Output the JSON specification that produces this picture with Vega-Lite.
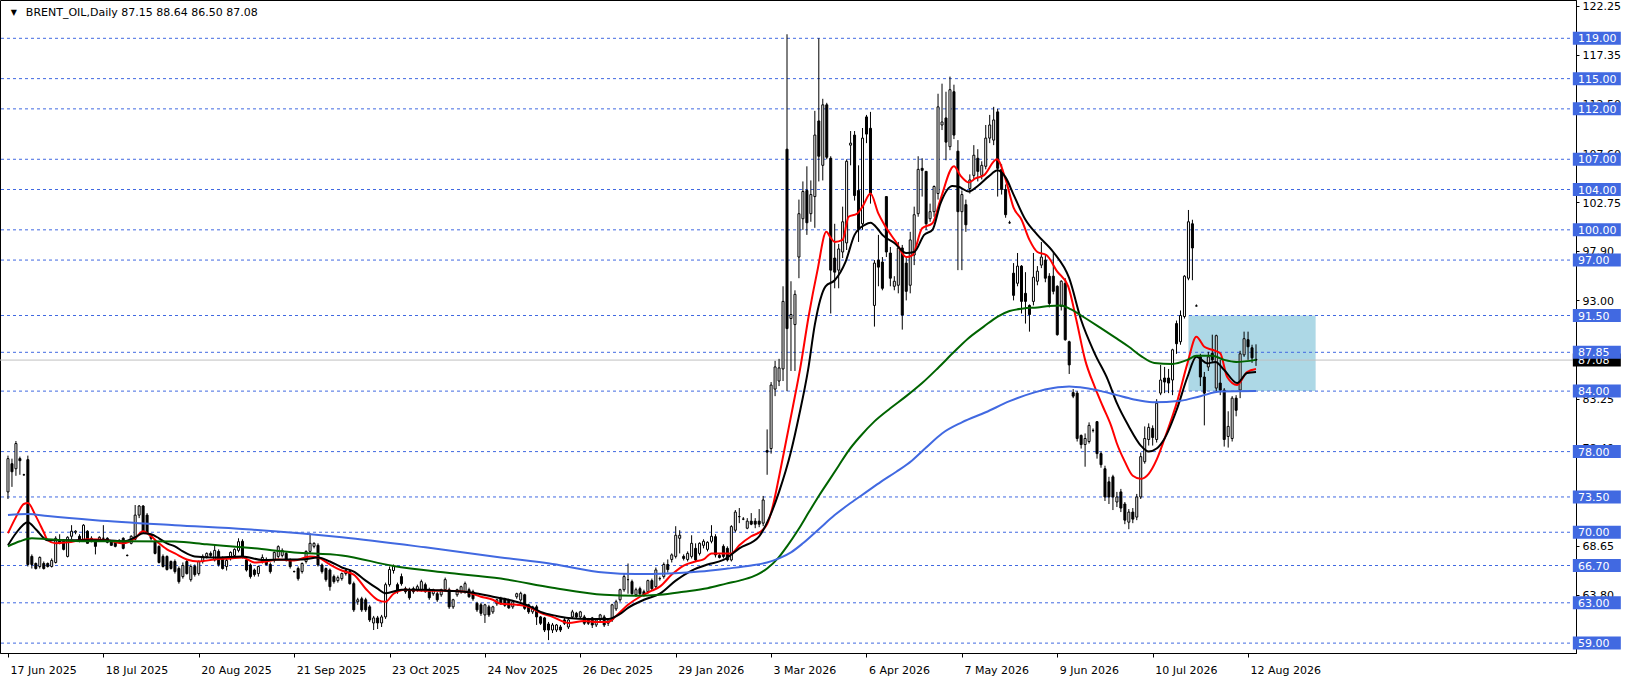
{
"$schema":"https://vega.github.io/schema/vega-lite/v6.json",
"width":1576,"height":653,
"autosize":{"type":"none"},
"padding":{"left":0,"top":0,"right":50,"bottom":33},
"background":"#ffffff",
"config":{"view":{"stroke":"#000000","strokeWidth":1},"axis":{"labelFont":"DejaVu Sans","labelFontSize":11,"labelColor":"#000000"}},
"datasets":{
"candles":[
{"i":0,"o":74.0,"h":77.6,"l":73.3,"c":77.3},{"i":1,"o":76.8,"h":77.3,"l":74.5,"c":76.0},{"i":2,"o":76.3,"h":79.05,"l":75.6,"c":78.8},{"i":3,"o":77.3,"h":77.5,"l":75.7,"c":77.1},{"i":4,"o":75.7,"h":75.8,"l":75.6,"c":75.7},
{"i":5,"o":77.2,"h":77.6,"l":66.6,"c":66.8},{"i":6,"o":67.6,"h":67.8,"l":66.4,"c":66.8},{"i":7,"o":66.9,"h":67.0,"l":66.3,"c":66.4},{"i":8,"o":66.6,"h":67.6,"l":66.4,"c":67.5},{"i":9,"o":66.9,"h":67.1,"l":66.3,"c":66.4},
{"i":10,"o":66.9,"h":67.0,"l":66.5,"c":66.6},{"i":11,"o":66.6,"h":67.4,"l":66.5,"c":67.2},{"i":12,"o":67.0,"h":69.6,"l":66.9,"c":69.4},{"i":13,"o":69.2,"h":69.8,"l":68.8,"c":68.9},{"i":14,"o":69.1,"h":69.3,"l":68.2,"c":68.3},
{"i":15,"o":67.6,"h":69.6,"l":67.5,"c":69.5},{"i":16,"o":69.6,"h":70.7,"l":69.3,"c":70.1},{"i":17,"o":70.0,"h":70.2,"l":69.8,"c":70.1},{"i":18,"o":69.6,"h":69.8,"l":69.0,"c":69.1},{"i":19,"o":69.3,"h":70.8,"l":69.2,"c":70.7},
{"i":20,"o":70.1,"h":70.2,"l":68.9,"c":68.9},{"i":21,"o":69.4,"h":69.6,"l":69.0,"c":69.1},{"i":22,"o":69.2,"h":69.3,"l":67.8,"c":68.6},{"i":23,"o":69.3,"h":69.6,"l":69.2,"c":69.5},{"i":24,"o":69.4,"h":70.7,"l":69.2,"c":69.4},
{"i":25,"o":69.4,"h":69.5,"l":68.9,"c":69.0},{"i":26,"o":69.1,"h":69.2,"l":68.7,"c":68.7},{"i":27,"o":69.0,"h":69.1,"l":68.5,"c":68.6},{"i":28,"o":69.1,"h":69.3,"l":68.9,"c":69.2},{"i":29,"o":69.4,"h":69.5,"l":68.3,"c":68.4},
{"i":30,"o":67.7,"h":67.8,"l":67.6,"c":67.7},{"i":31,"o":68.9,"h":69.7,"l":68.8,"c":69.6},{"i":32,"o":69.3,"h":72.7,"l":69.2,"c":71.7},{"i":33,"o":71.7,"h":72.7,"l":71.4,"c":72.6},{"i":34,"o":72.6,"h":72.7,"l":69.9,"c":70.1},
{"i":35,"o":71.7,"h":71.9,"l":69.8,"c":69.9},{"i":36,"o":69.7,"h":69.8,"l":69.2,"c":69.4},{"i":37,"o":69.1,"h":69.2,"l":67.8,"c":67.9},{"i":38,"o":68.6,"h":68.7,"l":66.9,"c":67.0},{"i":39,"o":67.6,"h":67.8,"l":66.5,"c":66.6},
{"i":40,"o":67.6,"h":67.7,"l":66.2,"c":66.3},{"i":41,"o":67.1,"h":67.2,"l":66.3,"c":66.4},{"i":42,"o":67.1,"h":67.3,"l":65.9,"c":66.1},{"i":43,"o":66.4,"h":66.6,"l":64.9,"c":65.1},{"i":44,"o":65.6,"h":67.0,"l":65.4,"c":66.7},
{"i":45,"o":67.1,"h":67.3,"l":65.8,"c":65.9},{"i":46,"o":65.3,"h":66.8,"l":65.1,"c":66.6},{"i":47,"o":66.6,"h":66.8,"l":65.6,"c":65.8},{"i":48,"o":65.9,"h":67.2,"l":65.7,"c":67.1},{"i":49,"o":67.1,"h":67.8,"l":66.9,"c":67.6},
{"i":50,"o":67.6,"h":68.0,"l":67.4,"c":67.9},{"i":51,"o":67.9,"h":68.1,"l":67.5,"c":67.7},{"i":52,"o":67.25,"h":68.7,"l":67.1,"c":68.2},{"i":53,"o":68.1,"h":68.3,"l":66.6,"c":66.8},{"i":54,"o":67.4,"h":67.6,"l":66.3,"c":66.4},
{"i":55,"o":66.6,"h":67.4,"l":66.2,"c":67.2},{"i":56,"o":67.4,"h":68.1,"l":67.2,"c":68.0},{"i":57,"o":67.7,"h":68.4,"l":67.6,"c":68.3},{"i":58,"o":68.2,"h":69.4,"l":68.0,"c":69.06},{"i":59,"o":69.1,"h":69.3,"l":67.4,"c":67.6},
{"i":60,"o":67.25,"h":67.4,"l":66.1,"c":66.25},{"i":61,"o":66.75,"h":66.9,"l":65.4,"c":65.6},{"i":62,"o":66.25,"h":66.4,"l":65.6,"c":65.8},{"i":63,"o":65.9,"h":66.7,"l":65.6,"c":66.6},{"i":64,"o":67.1,"h":67.8,"l":66.9,"c":67.5},
{"i":65,"o":67.3,"h":67.5,"l":66.7,"c":66.8},{"i":66,"o":66.8,"h":67.0,"l":65.9,"c":66.1},{"i":67,"o":67.2,"h":68.1,"l":67.0,"c":68.0},{"i":68,"o":67.6,"h":68.7,"l":67.4,"c":68.57},{"i":69,"o":67.7,"h":68.4,"l":67.5,"c":68.2},
{"i":70,"o":67.9,"h":68.1,"l":67.1,"c":67.2},{"i":71,"o":67.2,"h":67.4,"l":66.4,"c":66.6},{"i":72,"o":66.1,"h":66.2,"l":66.0,"c":66.1},{"i":73,"o":66.4,"h":66.6,"l":65.2,"c":65.4},{"i":74,"o":66.1,"h":67.0,"l":65.9,"c":66.9},
{"i":75,"o":67.1,"h":68.2,"l":66.9,"c":68.1},{"i":76,"o":68.1,"h":69.9,"l":67.9,"c":68.9},{"i":77,"o":68.6,"h":69.0,"l":68.4,"c":68.9},{"i":78,"o":68.7,"h":68.9,"l":66.6,"c":66.75},{"i":79,"o":66.75,"h":66.9,"l":65.9,"c":66.1},
{"i":80,"o":66.4,"h":66.5,"l":65.1,"c":65.3},{"i":81,"o":66.25,"h":66.4,"l":64.2,"c":64.6},{"i":82,"o":65.6,"h":65.8,"l":64.9,"c":65.1},{"i":83,"o":65.2,"h":65.7,"l":65.0,"c":65.5},{"i":84,"o":65.4,"h":66.0,"l":65.2,"c":65.9},
{"i":85,"o":65.9,"h":66.4,"l":65.7,"c":66.2},{"i":86,"o":66.1,"h":66.3,"l":64.8,"c":64.9},{"i":87,"o":64.9,"h":65.1,"l":62.1,"c":62.3},{"i":88,"o":63.1,"h":63.5,"l":62.8,"c":63.3},{"i":89,"o":63.4,"h":63.6,"l":62.1,"c":62.3},
{"i":90,"o":63.3,"h":63.5,"l":62.1,"c":62.3},{"i":91,"o":62.6,"h":62.8,"l":61.1,"c":61.3},{"i":92,"o":61.0,"h":61.7,"l":60.3,"c":61.5},{"i":93,"o":61.5,"h":61.7,"l":60.4,"c":61.0},{"i":94,"o":61.0,"h":61.8,"l":60.6,"c":61.6},
{"i":95,"o":61.6,"h":65.0,"l":61.4,"c":64.8},{"i":96,"o":64.8,"h":66.6,"l":64.6,"c":66.3},{"i":97,"o":66.2,"h":66.8,"l":65.9,"c":66.6},{"i":98,"o":64.8,"h":65.0,"l":63.9,"c":64.1},{"i":99,"o":65.6,"h":65.9,"l":64.7,"c":64.9},
{"i":100,"o":64.4,"h":64.6,"l":63.9,"c":64.1},{"i":101,"o":64.3,"h":64.5,"l":63.3,"c":63.5},{"i":102,"o":64.4,"h":64.6,"l":63.9,"c":64.1},{"i":103,"o":64.3,"h":64.8,"l":64.1,"c":64.6},{"i":104,"o":64.3,"h":65.3,"l":64.1,"c":65.1},
{"i":105,"o":64.8,"h":65.0,"l":64.0,"c":64.1},{"i":106,"o":64.3,"h":64.5,"l":63.3,"c":63.5},{"i":107,"o":63.9,"h":64.4,"l":63.7,"c":64.3},{"i":108,"o":63.9,"h":64.1,"l":63.1,"c":63.3},{"i":109,"o":63.8,"h":64.4,"l":63.6,"c":64.3},
{"i":110,"o":64.3,"h":65.5,"l":64.1,"c":65.3},{"i":111,"o":64.3,"h":64.5,"l":62.4,"c":62.6},{"i":112,"o":62.6,"h":63.4,"l":62.4,"c":63.3},{"i":113,"o":63.8,"h":64.4,"l":63.6,"c":64.3},{"i":114,"o":64.1,"h":64.7,"l":63.9,"c":64.6},
{"i":115,"o":64.1,"h":65.1,"l":63.9,"c":64.9},{"i":116,"o":64.3,"h":64.5,"l":63.5,"c":63.6},{"i":117,"o":64.1,"h":64.3,"l":63.2,"c":63.4},{"i":118,"o":62.95,"h":63.1,"l":62.1,"c":62.3},{"i":119,"o":62.8,"h":63.0,"l":61.7,"c":61.96},
{"i":120,"o":61.8,"h":62.9,"l":61.0,"c":62.8},{"i":121,"o":62.6,"h":62.8,"l":61.6,"c":61.8},{"i":122,"o":62.1,"h":62.7,"l":61.9,"c":62.6},{"i":123,"o":62.9,"h":63.4,"l":62.7,"c":63.3},{"i":124,"o":63.4,"h":63.6,"l":62.8,"c":62.9},
{"i":125,"o":63.3,"h":63.5,"l":62.6,"c":62.75},{"i":126,"o":63.3,"h":63.4,"l":62.4,"c":62.5},{"i":127,"o":62.6,"h":63.2,"l":62.4,"c":63.1},{"i":128,"o":63.6,"h":64.0,"l":63.4,"c":63.9},{"i":129,"o":63.28,"h":64.1,"l":63.1,"c":63.94},
{"i":130,"o":63.8,"h":63.9,"l":62.3,"c":62.45},{"i":131,"o":62.8,"h":62.9,"l":61.9,"c":62.1},{"i":132,"o":62.1,"h":62.7,"l":61.9,"c":62.6},{"i":133,"o":62.6,"h":62.8,"l":60.8,"c":61.6},{"i":134,"o":61.6,"h":61.7,"l":60.8,"c":60.97},
{"i":135,"o":61.5,"h":61.6,"l":60.1,"c":60.3},{"i":136,"o":60.9,"h":61.1,"l":59.3,"c":60.3},{"i":137,"o":60.3,"h":61.0,"l":60.0,"c":60.8},{"i":138,"o":60.3,"h":60.9,"l":60.1,"c":60.8},{"i":139,"o":60.6,"h":60.8,"l":60.1,"c":60.3},
{"i":140,"o":61.3,"h":61.5,"l":60.8,"c":60.97},{"i":141,"o":60.6,"h":61.4,"l":60.4,"c":61.3},{"i":142,"o":61.6,"h":62.3,"l":61.4,"c":62.1},{"i":143,"o":61.96,"h":62.1,"l":61.4,"c":61.6},{"i":144,"o":61.6,"h":62.2,"l":61.4,"c":62.1},
{"i":145,"o":61.6,"h":61.8,"l":60.8,"c":60.97},{"i":146,"o":61.3,"h":61.5,"l":60.8,"c":60.97},{"i":147,"o":61.5,"h":61.6,"l":60.5,"c":60.8},{"i":148,"o":60.8,"h":61.4,"l":60.6,"c":61.3},{"i":149,"o":61.3,"h":61.9,"l":61.1,"c":61.8},
{"i":150,"o":61.6,"h":61.8,"l":60.6,"c":60.8},{"i":151,"o":60.97,"h":61.4,"l":60.7,"c":61.3},{"i":152,"o":61.3,"h":62.9,"l":61.1,"c":62.8},{"i":153,"o":62.4,"h":63.3,"l":62.2,"c":63.1},{"i":154,"o":63.3,"h":64.4,"l":63.1,"c":64.3},
{"i":155,"o":64.3,"h":65.9,"l":64.1,"c":65.6},{"i":156,"o":65.3,"h":66.9,"l":63.9,"c":65.3},{"i":157,"o":65.1,"h":65.3,"l":63.8,"c":63.9},{"i":158,"o":63.8,"h":64.5,"l":63.6,"c":64.3},{"i":159,"o":64.4,"h":64.6,"l":63.7,"c":63.9},
{"i":160,"o":64.1,"h":64.3,"l":63.6,"c":63.8},{"i":161,"o":64.1,"h":65.3,"l":63.9,"c":65.2},{"i":162,"o":65.2,"h":65.4,"l":64.2,"c":64.4},{"i":163,"o":64.6,"h":66.5,"l":64.4,"c":66.26},{"i":164,"o":65.4,"h":65.6,"l":65.2,"c":65.4},
{"i":165,"o":65.6,"h":67.0,"l":65.4,"c":66.8},{"i":166,"o":66.8,"h":67.3,"l":66.0,"c":66.3},{"i":167,"o":67.3,"h":67.9,"l":67.0,"c":67.75},{"i":168,"o":67.6,"h":70.6,"l":67.4,"c":69.7},{"i":169,"o":69.4,"h":70.2,"l":67.9,"c":69.7},
{"i":170,"o":67.6,"h":67.8,"l":67.2,"c":67.4},{"i":171,"o":67.3,"h":68.1,"l":67.1,"c":67.9},{"i":172,"o":67.6,"h":69.7,"l":67.4,"c":68.9},{"i":173,"o":68.4,"h":68.9,"l":67.1,"c":67.25},{"i":174,"o":67.9,"h":69.0,"l":67.7,"c":68.9},
{"i":175,"o":68.7,"h":69.3,"l":68.4,"c":69.1},{"i":176,"o":68.3,"h":69.1,"l":68.1,"c":69.0},{"i":177,"o":69.1,"h":70.7,"l":68.9,"c":69.6},{"i":178,"o":69.56,"h":69.8,"l":67.5,"c":67.75},{"i":179,"o":67.7,"h":67.9,"l":67.4,"c":67.5},
{"i":180,"o":68.6,"h":68.8,"l":67.4,"c":67.6},{"i":181,"o":68.4,"h":68.6,"l":67.1,"c":67.25},{"i":182,"o":67.25,"h":70.7,"l":67.1,"c":70.56},{"i":183,"o":70.2,"h":72.2,"l":70.0,"c":72.0},{"i":184,"o":71.55,"h":72.4,"l":70.9,"c":71.55},
{"i":185,"o":71.3,"h":71.5,"l":71.2,"c":71.3},{"i":186,"o":70.4,"h":71.4,"l":70.3,"c":71.1},{"i":187,"o":71.1,"h":71.9,"l":70.7,"c":70.8},{"i":188,"o":71.1,"h":71.4,"l":70.4,"c":70.8},{"i":189,"o":71.1,"h":72.3,"l":70.5,"c":70.8},
{"i":190,"o":70.9,"h":73.6,"l":70.6,"c":73.2},{"i":191,"o":78.1,"h":80.2,"l":75.7,"c":77.95},{"i":192,"o":78.3,"h":84.9,"l":77.8,"c":84.6},{"i":193,"o":84.2,"h":87.0,"l":83.5,"c":86.4},{"i":194,"o":85.0,"h":87.2,"l":84.5,"c":86.3},
{"i":195,"o":86.2,"h":94.4,"l":85.0,"c":92.9},{"i":196,"o":108.0,"h":119.4,"l":84.0,"c":90.2},{"i":197,"o":91.2,"h":94.9,"l":86.0,"c":91.6},{"i":198,"o":90.6,"h":94.0,"l":86.0,"c":93.6},{"i":199,"o":97.3,"h":103.0,"l":95.2,"c":101.6},
{"i":200,"o":101.1,"h":104.8,"l":100.0,"c":103.8},{"i":201,"o":103.9,"h":106.3,"l":99.5,"c":100.7},{"i":202,"o":101.6,"h":104.9,"l":100.8,"c":103.5},{"i":203,"o":103.3,"h":111.8,"l":100.2,"c":109.4},{"i":204,"o":110.8,"h":119.0,"l":104.8,"c":107.3},
{"i":205,"o":106.4,"h":113.0,"l":104.9,"c":112.4},{"i":206,"o":112.4,"h":112.6,"l":107.0,"c":107.2},{"i":207,"o":107.1,"h":107.3,"l":91.7,"c":96.0},{"i":208,"o":97.2,"h":100.6,"l":94.2,"c":95.8},{"i":209,"o":96.0,"h":98.6,"l":94.2,"c":98.1},
{"i":210,"o":97.8,"h":102.3,"l":97.2,"c":100.8},{"i":211,"o":98.7,"h":107.0,"l":98.0,"c":106.8},{"i":212,"o":108.4,"h":109.8,"l":106.4,"c":108.6},{"i":213,"o":109.4,"h":109.8,"l":102.9,"c":103.4},{"i":214,"o":103.9,"h":106.4,"l":98.8,"c":100.1},
{"i":215,"o":100.6,"h":110.1,"l":100.0,"c":109.1},{"i":216,"o":111.2,"h":111.4,"l":108.6,"c":109.5},{"i":217,"o":110.07,"h":111.7,"l":102.6,"c":103.6},{"i":218,"o":92.5,"h":97.0,"l":90.4,"c":96.7},{"i":219,"o":97.0,"h":99.5,"l":94.4,"c":96.3},
{"i":220,"o":96.8,"h":97.3,"l":94.0,"c":94.2},{"i":221,"o":103.3,"h":103.3,"l":97.3,"c":97.8},{"i":222,"o":97.7,"h":98.3,"l":94.4,"c":95.2},{"i":223,"o":94.4,"h":95.4,"l":94.0,"c":94.9},{"i":224,"o":94.5,"h":98.8,"l":93.7,"c":98.2},
{"i":225,"o":98.2,"h":98.5,"l":90.1,"c":91.55},{"i":226,"o":96.7,"h":97.2,"l":93.0,"c":93.9},{"i":227,"o":94.5,"h":99.8,"l":93.7,"c":99.0},{"i":228,"o":97.5,"h":102.3,"l":96.5,"c":101.5},{"i":229,"o":101.6,"h":107.3,"l":101.3,"c":106.0},
{"i":230,"o":106.1,"h":107.1,"l":103.3,"c":105.9},{"i":231,"o":105.8,"h":105.8,"l":100.0,"c":100.6},{"i":232,"o":101.1,"h":102.6,"l":100.8,"c":101.8},{"i":233,"o":101.8,"h":104.4,"l":101.3,"c":104.3},{"i":234,"o":103.6,"h":113.5,"l":103.0,"c":112.2},
{"i":235,"o":110.4,"h":114.5,"l":109.9,"c":110.7},{"i":236,"o":111.1,"h":113.7,"l":106.9,"c":108.7},{"i":237,"o":108.25,"h":115.2,"l":107.9,"c":113.9},{"i":238,"o":113.7,"h":114.4,"l":109.0,"c":109.4},{"i":239,"o":107.8,"h":108.9,"l":96.0,"c":101.8},
{"i":240,"o":101.8,"h":103.9,"l":96.0,"c":103.5},{"i":241,"o":102.5,"h":103.0,"l":99.8,"c":100.5},{"i":242,"o":104.1,"h":105.5,"l":103.6,"c":104.95},{"i":243,"o":105.4,"h":108.4,"l":105.0,"c":107.4},{"i":244,"o":107.1,"h":108.0,"l":104.8,"c":105.8},
{"i":245,"o":105.4,"h":106.8,"l":105.0,"c":106.4},{"i":246,"o":106.3,"h":110.4,"l":106.0,"c":109.1},{"i":247,"o":109.1,"h":111.4,"l":108.6,"c":110.4},{"i":248,"o":108.9,"h":112.2,"l":108.4,"c":110.9},{"i":249,"o":111.7,"h":112.0,"l":103.3,"c":106.1},
{"i":250,"o":106.0,"h":106.5,"l":103.5,"c":104.0},{"i":251,"o":104.0,"h":104.5,"l":101.2,"c":101.5},{"i":252,"o":100.7,"h":100.9,"l":100.6,"c":100.7},{"i":253,"o":95.7,"h":96.7,"l":93.0,"c":93.5},{"i":254,"o":94.7,"h":97.7,"l":94.4,"c":96.4},
{"i":255,"o":96.4,"h":96.5,"l":91.7,"c":92.9},{"i":256,"o":93.7,"h":95.8,"l":90.7,"c":92.9},{"i":257,"o":92.5,"h":92.6,"l":89.9,"c":91.6},{"i":258,"o":92.9,"h":97.7,"l":92.5,"c":95.3},{"i":259,"o":94.9,"h":96.4,"l":94.5,"c":95.9},
{"i":260,"o":96.5,"h":98.8,"l":96.2,"c":97.3},{"i":261,"o":97.0,"h":97.5,"l":94.8,"c":95.2},{"i":262,"o":95.4,"h":95.7,"l":92.3,"c":92.7},{"i":263,"o":95.4,"h":97.8,"l":93.6,"c":93.9},{"i":264,"o":94.4,"h":94.5,"l":89.5,"c":89.6},
{"i":265,"o":92.4,"h":95.0,"l":92.0,"c":94.9},{"i":266,"o":94.7,"h":95.2,"l":89.0,"c":89.1},{"i":267,"o":88.9,"h":89.0,"l":85.7,"c":86.6},{"i":268,"o":83.85,"h":84.2,"l":83.3,"c":83.5},{"i":269,"o":83.8,"h":84.0,"l":79.0,"c":79.3},
{"i":270,"o":79.6,"h":79.7,"l":78.3,"c":78.7},{"i":271,"o":78.7,"h":79.8,"l":76.5,"c":79.3},{"i":272,"o":79.0,"h":80.9,"l":78.8,"c":80.6},{"i":273,"o":80.1,"h":80.3,"l":79.9,"c":80.1},{"i":274,"o":80.97,"h":81.0,"l":77.3,"c":77.8},
{"i":275,"o":77.8,"h":78.0,"l":76.4,"c":76.7},{"i":276,"o":76.3,"h":76.6,"l":73.1,"c":73.5},{"i":277,"o":75.0,"h":75.5,"l":72.8,"c":73.5},{"i":278,"o":75.5,"h":75.7,"l":72.2,"c":73.5},{"i":279,"o":73.0,"h":74.0,"l":72.5,"c":73.5},
{"i":280,"o":74.0,"h":74.3,"l":72.0,"c":72.4},{"i":281,"o":72.8,"h":73.0,"l":70.8,"c":71.2},{"i":282,"o":71.0,"h":72.3,"l":70.3,"c":72.0},{"i":283,"o":72.0,"h":72.4,"l":70.9,"c":71.3},{"i":284,"o":71.5,"h":73.8,"l":71.2,"c":73.5},
{"i":285,"o":73.5,"h":77.9,"l":73.3,"c":77.5},{"i":286,"o":77.0,"h":80.5,"l":76.8,"c":79.3},{"i":287,"o":79.2,"h":80.8,"l":78.6,"c":80.4},{"i":288,"o":80.3,"h":80.6,"l":78.6,"c":79.4},{"i":289,"o":79.2,"h":83.2,"l":78.9,"c":82.8},
{"i":290,"o":83.8,"h":86.6,"l":83.6,"c":85.1},{"i":291,"o":85.3,"h":86.4,"l":83.8,"c":84.9},{"i":292,"o":85.3,"h":86.2,"l":83.8,"c":84.8},{"i":293,"o":85.1,"h":88.2,"l":83.6,"c":88.1},{"i":294,"o":90.7,"h":91.0,"l":87.7,"c":88.7},
{"i":295,"o":88.9,"h":92.0,"l":88.6,"c":91.5},{"i":296,"o":91.4,"h":95.5,"l":91.2,"c":95.4},{"i":297,"o":95.2,"h":101.97,"l":95.0,"c":100.8},{"i":298,"o":100.6,"h":101.0,"l":95.0,"c":98.2},{"i":299,"o":92.45,"h":92.6,"l":92.4,"c":92.45},
{"i":300,"o":87.4,"h":87.7,"l":84.5,"c":85.4},{"i":301,"o":85.4,"h":85.9,"l":80.6,"c":83.8},{"i":302,"o":86.4,"h":87.9,"l":86.0,"c":87.4},{"i":303,"o":87.75,"h":89.6,"l":86.8,"c":87.1},{"i":304,"o":84.3,"h":89.6,"l":84.0,"c":89.5},
{"i":305,"o":84.8,"h":87.1,"l":83.6,"c":84.1},{"i":306,"o":84.1,"h":84.3,"l":78.5,"c":79.2},{"i":307,"o":79.5,"h":82.0,"l":78.4,"c":80.5},{"i":308,"o":79.3,"h":83.5,"l":79.0,"c":83.3},{"i":309,"o":83.3,"h":83.6,"l":81.5,"c":82.1},
{"i":310,"o":84.1,"h":88.0,"l":83.3,"c":87.7},{"i":311,"o":87.6,"h":89.9,"l":87.4,"c":89.2},{"i":312,"o":89.1,"h":89.9,"l":87.1,"c":88.4},{"i":313,"o":88.3,"h":88.6,"l":86.8,"c":87.3},{"i":314,"o":87.15,"h":88.64,"l":86.5,"c":87.08}
],
"ma":[
{"m":"r","i":0,"v":69.9},{"m":"r","i":2,"v":71.5},{"m":"r","i":4,"v":72.8},{"m":"r","i":5,"v":72.9},{"m":"r","i":7,"v":71.6},{"m":"r","i":9,"v":70.0},{"m":"r","i":10,"v":69.2},{"m":"r","i":12,"v":68.9},{"m":"r","i":15,"v":69.0},{"m":"r","i":20,"v":69.3},{"m":"r","i":25,"v":69.2},{"m":"r","i":29,"v":68.9},{"m":"r","i":32,"v":69.4},{"m":"r","i":34,"v":70.1},{"m":"r","i":36,"v":69.6},{"m":"r","i":38,"v":68.9},{"m":"r","i":40,"v":68.3},{"m":"r","i":42,"v":67.9},{"m":"r","i":45,"v":67.3},{"m":"r","i":48,"v":67.1},{"m":"r","i":52,"v":67.3},{"m":"r","i":56,"v":67.4},{"m":"r","i":59,"v":67.5},{"m":"r","i":62,"v":67.0},{"m":"r","i":65,"v":67.1},{"m":"r","i":68,"v":67.3},{"m":"r","i":72,"v":67.2},{"m":"r","i":76,"v":67.6},{"m":"r","i":78,"v":67.5},{"m":"r","i":81,"v":66.8},{"m":"r","i":84,"v":66.2},{"m":"r","i":87,"v":65.8},{"m":"r","i":90,"v":64.4},{"m":"r","i":93,"v":63.3},{"m":"r","i":95,"v":63.1},{"m":"r","i":97,"v":63.9},{"m":"r","i":100,"v":64.3},{"m":"r","i":105,"v":64.2},{"m":"r","i":110,"v":64.2},{"m":"r","i":115,"v":64.1},{"m":"r","i":119,"v":63.6},{"m":"r","i":122,"v":63.3},{"m":"r","i":124,"v":62.9},{"m":"r","i":128,"v":62.8},{"m":"r","i":131,"v":62.6},{"m":"r","i":134,"v":62.0},{"m":"r","i":137,"v":61.6},{"m":"r","i":141,"v":61.0},{"m":"r","i":145,"v":61.2},{"m":"r","i":148,"v":61.1},{"m":"r","i":151,"v":61.1},{"m":"r","i":153,"v":61.7},{"m":"r","i":156,"v":62.8},{"m":"r","i":159,"v":63.6},{"m":"r","i":162,"v":64.2},{"m":"r","i":164,"v":64.6},{"m":"r","i":167,"v":65.8},{"m":"r","i":170,"v":66.7},{"m":"r","i":173,"v":67.1},{"m":"r","i":175,"v":67.3},{"m":"r","i":177,"v":67.9},{"m":"r","i":182,"v":67.9},{"m":"r","i":184,"v":68.7},{"m":"r","i":187,"v":69.6},{"m":"r","i":189.5,"v":70.1},{"m":"r","i":191,"v":70.8},{"m":"r","i":192.5,"v":72.7},{"m":"r","i":194,"v":75.5},{"m":"r","i":196,"v":79.5},{"m":"r","i":197.5,"v":82.5},{"m":"r","i":199.25,"v":86.1},{"m":"r","i":201.5,"v":91.55},{"m":"r","i":203.6,"v":95.85},{"m":"r","i":205.9,"v":99.8},{"m":"r","i":207,"v":99.2},{"m":"r","i":208,"v":98.8},{"m":"r","i":210,"v":99.0},{"m":"r","i":211.5,"v":101.3},{"m":"r","i":213.6,"v":101.6},{"m":"r","i":215,"v":102.3},{"m":"r","i":217,"v":103.6},{"m":"r","i":219,"v":101.6},{"m":"r","i":220.5,"v":100.5},{"m":"r","i":223.4,"v":98.8},{"m":"r","i":226,"v":97.3},{"m":"r","i":227.6,"v":97.5},{"m":"r","i":230,"v":100.15},{"m":"r","i":232.6,"v":100.65},{"m":"r","i":234.6,"v":103.0},{"m":"r","i":238,"v":106.3},{"m":"r","i":239.6,"v":105.4},{"m":"r","i":241.75,"v":104.7},{"m":"r","i":243.4,"v":105.1},{"m":"r","i":245.5,"v":105.4},{"m":"r","i":248.8,"v":107.0},{"m":"r","i":251,"v":105.0},{"m":"r","i":253,"v":102.2},{"m":"r","i":255,"v":101.0},{"m":"r","i":257,"v":99.0},{"m":"r","i":259,"v":97.8},{"m":"r","i":261.25,"v":97.5},{"m":"r","i":264,"v":95.85},{"m":"r","i":266.75,"v":94.4},{"m":"r","i":268.8,"v":91.05},{"m":"r","i":271,"v":87.1},{"m":"r","i":273.4,"v":84.45},{"m":"r","i":275.5,"v":82.45},{"m":"r","i":277.6,"v":80.5},{"m":"r","i":279,"v":78.8},{"m":"r","i":281,"v":77.0},{"m":"r","i":283,"v":75.6},{"m":"r","i":285,"v":75.3},{"m":"r","i":287,"v":75.8},{"m":"r","i":289,"v":77.2},{"m":"r","i":291,"v":79.3},{"m":"r","i":294.25,"v":83.1},{"m":"r","i":296.75,"v":86.75},{"m":"r","i":299,"v":89.4},{"m":"r","i":301,"v":88.4},{"m":"r","i":303,"v":88.1},{"m":"r","i":305,"v":87.75},{"m":"r","i":306.75,"v":85.4},{"m":"r","i":309.25,"v":84.6},{"m":"r","i":311.75,"v":85.9},{"m":"r","i":314,"v":86.2},
{"m":"k","i":0,"v":68.7},{"m":"k","i":2,"v":69.9},{"m":"k","i":5,"v":71.0},{"m":"k","i":7,"v":70.3},{"m":"k","i":10,"v":69.2},{"m":"k","i":15,"v":69.2},{"m":"k","i":20,"v":69.2},{"m":"k","i":25,"v":69.2},{"m":"k","i":29,"v":69.1},{"m":"k","i":32,"v":69.5},{"m":"k","i":34,"v":69.9},{"m":"k","i":36,"v":69.8},{"m":"k","i":38,"v":69.4},{"m":"k","i":40,"v":68.9},{"m":"k","i":42,"v":68.6},{"m":"k","i":44,"v":68.1},{"m":"k","i":47,"v":67.6},{"m":"k","i":52,"v":67.5},{"m":"k","i":59,"v":67.6},{"m":"k","i":64,"v":67.25},{"m":"k","i":70,"v":67.3},{"m":"k","i":74,"v":67.3},{"m":"k","i":78,"v":67.5},{"m":"k","i":81,"v":67.1},{"m":"k","i":84,"v":66.5},{"m":"k","i":87,"v":66.1},{"m":"k","i":90,"v":65.2},{"m":"k","i":93,"v":64.4},{"m":"k","i":95,"v":63.95},{"m":"k","i":99,"v":64.3},{"m":"k","i":105,"v":64.3},{"m":"k","i":110,"v":64.2},{"m":"k","i":117,"v":64.0},{"m":"k","i":122,"v":63.6},{"m":"k","i":127,"v":63.2},{"m":"k","i":131,"v":62.7},{"m":"k","i":134,"v":62.1},{"m":"k","i":138,"v":61.7},{"m":"k","i":141,"v":61.5},{"m":"k","i":146,"v":61.4},{"m":"k","i":151,"v":61.4},{"m":"k","i":154,"v":61.9},{"m":"k","i":156,"v":62.5},{"m":"k","i":160,"v":63.3},{"m":"k","i":164,"v":63.9},{"m":"k","i":168,"v":65.2},{"m":"k","i":172,"v":66.2},{"m":"k","i":176,"v":66.8},{"m":"k","i":180,"v":67.25},{"m":"k","i":184,"v":68.4},{"m":"k","i":189,"v":69.6},{"m":"k","i":191.5,"v":71.4},{"m":"k","i":194,"v":74.0},{"m":"k","i":197,"v":78.0},{"m":"k","i":199,"v":81.5},{"m":"k","i":201.3,"v":86.1},{"m":"k","i":203,"v":90.6},{"m":"k","i":205.7,"v":94.4},{"m":"k","i":208,"v":95.0},{"m":"k","i":210.7,"v":96.8},{"m":"k","i":213,"v":99.5},{"m":"k","i":215.6,"v":100.5},{"m":"k","i":217,"v":100.7},{"m":"k","i":219,"v":100.0},{"m":"k","i":220,"v":99.5},{"m":"k","i":223,"v":98.7},{"m":"k","i":226,"v":97.7},{"m":"k","i":228,"v":97.8},{"m":"k","i":230.5,"v":99.5},{"m":"k","i":232.6,"v":100.0},{"m":"k","i":234.6,"v":102.6},{"m":"k","i":237.6,"v":104.35},{"m":"k","i":239,"v":104.3},{"m":"k","i":241.75,"v":103.8},{"m":"k","i":244,"v":104.35},{"m":"k","i":246.75,"v":105.3},{"m":"k","i":249,"v":105.9},{"m":"k","i":251,"v":105.2},{"m":"k","i":253,"v":103.5},{"m":"k","i":256,"v":101.0},{"m":"k","i":259,"v":99.5},{"m":"k","i":263,"v":97.8},{"m":"k","i":267,"v":95.2},{"m":"k","i":270,"v":91.05},{"m":"k","i":273.4,"v":87.75},{"m":"k","i":276.75,"v":85.1},{"m":"k","i":279,"v":82.8},{"m":"k","i":282,"v":80.5},{"m":"k","i":285,"v":78.6},{"m":"k","i":287,"v":78.0},{"m":"k","i":289,"v":78.3},{"m":"k","i":291,"v":79.3},{"m":"k","i":294,"v":82.1},{"m":"k","i":296.75,"v":85.4},{"m":"k","i":299,"v":87.4},{"m":"k","i":301.75,"v":86.75},{"m":"k","i":303.8,"v":86.9},{"m":"k","i":306,"v":86.1},{"m":"k","i":309.25,"v":84.8},{"m":"k","i":311.75,"v":85.8},{"m":"k","i":314,"v":85.9},
{"m":"g","i":0,"v":68.6},{"m":"g","i":3,"v":69.1},{"m":"g","i":6,"v":69.4},{"m":"g","i":10,"v":69.3},{"m":"g","i":20,"v":69.1},{"m":"g","i":30,"v":69.1},{"m":"g","i":42,"v":69.07},{"m":"g","i":50,"v":68.8},{"m":"g","i":62,"v":68.4},{"m":"g","i":72,"v":68.0},{"m":"g","i":84,"v":67.7},{"m":"g","i":97,"v":66.66},{"m":"g","i":110,"v":66.0},{"m":"g","i":124,"v":65.4},{"m":"g","i":137,"v":64.5},{"m":"g","i":150,"v":63.8},{"m":"g","i":158,"v":63.7},{"m":"g","i":164,"v":63.8},{"m":"g","i":170,"v":64.1},{"m":"g","i":176,"v":64.45},{"m":"g","i":180.7,"v":64.9},{"m":"g","i":185,"v":65.3},{"m":"g","i":188.5,"v":65.8},{"m":"g","i":191,"v":66.4},{"m":"g","i":193.7,"v":67.4},{"m":"g","i":196,"v":68.6},{"m":"g","i":198.9,"v":70.3},{"m":"g","i":201.5,"v":72.0},{"m":"g","i":204,"v":73.6},{"m":"g","i":206.5,"v":75.1},{"m":"g","i":209,"v":76.6},{"m":"g","i":211.5,"v":78.1},{"m":"g","i":214.4,"v":79.5},{"m":"g","i":218,"v":81.0},{"m":"g","i":222,"v":82.3},{"m":"g","i":226,"v":83.5},{"m":"g","i":230,"v":84.8},{"m":"g","i":234,"v":86.3},{"m":"g","i":237.8,"v":87.8},{"m":"g","i":241.5,"v":89.2},{"m":"g","i":245.5,"v":90.4},{"m":"g","i":249,"v":91.4},{"m":"g","i":252,"v":91.95},{"m":"g","i":255.5,"v":92.2},{"m":"g","i":259,"v":92.3},{"m":"g","i":262,"v":92.45},{"m":"g","i":265,"v":92.5},{"m":"g","i":267.5,"v":92.1},{"m":"g","i":270,"v":91.5},{"m":"g","i":274,"v":90.5},{"m":"g","i":279,"v":89.2},{"m":"g","i":282,"v":88.4},{"m":"g","i":285,"v":87.5},{"m":"g","i":288.4,"v":86.8},{"m":"g","i":293,"v":86.7},{"m":"g","i":296.75,"v":87.1},{"m":"g","i":299,"v":87.5},{"m":"g","i":303,"v":87.5},{"m":"g","i":306,"v":87.1},{"m":"g","i":309,"v":86.9},{"m":"g","i":314,"v":87.1},
{"m":"b","i":0,"v":71.7},{"m":"b","i":5,"v":71.8},{"m":"b","i":10,"v":71.6},{"m":"b","i":22,"v":71.2},{"m":"b","i":42,"v":70.7},{"m":"b","i":60,"v":70.3},{"m":"b","i":84,"v":69.5},{"m":"b","i":105,"v":68.5},{"m":"b","i":124,"v":67.5},{"m":"b","i":137,"v":66.85},{"m":"b","i":150,"v":66.0},{"m":"b","i":158,"v":65.85},{"m":"b","i":166,"v":65.9},{"m":"b","i":174,"v":66.1},{"m":"b","i":181,"v":66.4},{"m":"b","i":187,"v":66.7},{"m":"b","i":191,"v":67.0},{"m":"b","i":194,"v":67.4},{"m":"b","i":197,"v":68.0},{"m":"b","i":200,"v":68.9},{"m":"b","i":204,"v":70.3},{"m":"b","i":208,"v":71.7},{"m":"b","i":212,"v":72.9},{"m":"b","i":216,"v":74.0},{"m":"b","i":219.6,"v":75.0},{"m":"b","i":223.5,"v":76.0},{"m":"b","i":227.4,"v":77.1},{"m":"b","i":231,"v":78.4},{"m":"b","i":235,"v":79.8},{"m":"b","i":240,"v":80.9},{"m":"b","i":246,"v":81.9},{"m":"b","i":252,"v":83.0},{"m":"b","i":258.5,"v":83.9},{"m":"b","i":263,"v":84.3},{"m":"b","i":267,"v":84.45},{"m":"b","i":271,"v":84.3},{"m":"b","i":275,"v":84.0},{"m":"b","i":279,"v":83.6},{"m":"b","i":283,"v":83.2},{"m":"b","i":288,"v":82.9},{"m":"b","i":295,"v":83.05},{"m":"b","i":300,"v":83.5},{"m":"b","i":305,"v":83.95},{"m":"b","i":314,"v":84.0}
],
"levels":[{"p":119},{"p":115},{"p":112},{"p":107},{"p":104},{"p":100},{"p":97},{"p":91.5},{"p":87.85},{"p":84},{"p":78},{"p":73.5},{"p":70},{"p":66.7},{"p":63},{"p":59}],
"cur":[{"p":87.08}],
"zone":[{"i":297,"i2":329,"p":84,"p2":91.5}]
},
"layer":[
{"data":{"name":"zone"},"mark":{"type":"rect","fill":"#ADD8E6"},
 "encoding":{
  "x":{"field":"i","type":"quantitative","scale":{"domain":[-0.75,393.25],"nice":false,"zero":false},
   "axis":{"title":null,"grid":false,"values":[0,24,48,72,96,120,144,168,192,216,240,264,288,312],
    "labelExpr":"['17 Jun 2025','18 Jul 2025','20 Aug 2025','21 Sep 2025','23 Oct 2025','24 Nov 2025','26 Dec 2025','29 Jan 2026','3 Mar 2026','6 Apr 2026','7 May 2026','9 Jun 2026','10 Jul 2026','12 Aug 2026'][round(datum.value/24)]",
    "labelAlign":"left","labelBaseline":"top","labelOffset":2,"labelPadding":7,"tickSize":4,"tickColor":"#000000","domainColor":"#000000","labelFlush":false,"labelOverlap":false}},
  "x2":{"field":"i2"},
  "y":{"field":"p","type":"quantitative","scale":{"domain":[58.02,122.8],"nice":false,"zero":false},
   "axis":{"title":null,"grid":false,"orient":"right","values":[122.25,117.35,112.5,107.6,102.75,97.9,93,88.15,83.25,78.4,73.5,68.65,63.8,58.9],
    "format":".2f","labelAlign":"left","labelBaseline":"middle","labelPadding":3,"labelOffset":1,"tickSize":3,"tickColor":"#000000","domainColor":"#000000","labelFlush":false,"labelOverlap":false}},
  "y2":{"field":"p2"}}},
{"data":{"name":"levels"},"mark":{"type":"rule","color":"#4169E1","strokeWidth":1,"strokeDash":[3,3]},
 "encoding":{"y":{"field":"p","type":"quantitative","scale":{"domain":[58.02,122.8],"nice":false,"zero":false}}}},
{"data":{"name":"cur"},"mark":{"type":"rule","color":"#C0C0C0","strokeWidth":1},
 "encoding":{"y":{"field":"p","type":"quantitative","scale":{"domain":[58.02,122.8],"nice":false,"zero":false}}}},
{"data":{"name":"candles"},"mark":{"type":"rule","color":"#000000","strokeWidth":1},
 "encoding":{"x":{"field":"i","type":"quantitative"},"y":{"field":"l","type":"quantitative","scale":{"domain":[58.02,122.8],"nice":false,"zero":false}},"y2":{"field":"h"}}},
{"data":{"name":"candles"},"mark":{"type":"bar","size":2,"stroke":"#000000","strokeWidth":1},
 "encoding":{"x":{"field":"i","type":"quantitative"},"y":{"field":"o","type":"quantitative","scale":{"domain":[58.02,122.8],"nice":false,"zero":false}},"y2":{"field":"c"},
  "fill":{"condition":{"test":"datum.c >= datum.o","value":"#ffffff"},"value":"#000000"}}},
{"data":{"name":"ma"},"mark":{"type":"line","strokeWidth":2,"interpolate":"monotone"},
 "encoding":{"x":{"field":"i","type":"quantitative"},"y":{"field":"v","type":"quantitative","scale":{"domain":[58.02,122.8],"nice":false,"zero":false}},
  "color":{"field":"m","type":"nominal","scale":{"domain":["b","g","k","r"],"range":["#4169E1","#006400","#000000","#FF0000"]},"legend":null}}},
{"data":{"name":"cur"},"mark":{"type":"tick","orient":"horizontal","color":"#000000","size":48,"thickness":13,"opacity":1},
 "encoding":{"x":{"datum":399.75},"y":{"field":"p","type":"quantitative","scale":{"domain":[58.02,122.8],"nice":false,"zero":false}}}},
{"data":{"name":"cur"},"mark":{"type":"text","color":"#ffffff","align":"left","baseline":"middle","font":"DejaVu Sans","fontSize":11,"dy":1},
 "encoding":{"x":{"datum":395},"y":{"field":"p","type":"quantitative","scale":{"domain":[58.02,122.8],"nice":false,"zero":false}},"text":{"field":"p","type":"quantitative","format":".2f"}}},
{"data":{"name":"levels"},"mark":{"type":"tick","orient":"horizontal","color":"#4169E1","size":48,"thickness":13,"opacity":1},
 "encoding":{"x":{"datum":399.75},"y":{"field":"p","type":"quantitative","scale":{"domain":[58.02,122.8],"nice":false,"zero":false}}}},
{"data":{"name":"levels"},"mark":{"type":"text","color":"#ffffff","align":"left","baseline":"middle","font":"DejaVu Sans","fontSize":11,"dy":1},
 "encoding":{"x":{"datum":395},"y":{"field":"p","type":"quantitative","scale":{"domain":[58.02,122.8],"nice":false,"zero":false}},"text":{"field":"p","type":"quantitative","format":".2f"}}},
{"data":{"values":[{}]},"mark":{"type":"text","color":"#000000","align":"center","baseline":"middle","font":"DejaVu Sans","fontSize":8},
 "encoding":{"x":{"datum":1.5},"y":{"datum":121.55},"text":{"value":"▼"}}},
{"data":{"values":[{}]},"mark":{"type":"text","color":"#000000","align":"left","baseline":"middle","font":"DejaVu Sans","fontSize":11},
 "encoding":{"x":{"datum":4.5},"y":{"datum":121.5},"text":{"value":"BRENT_OIL,Daily  87.15 88.64 86.50 87.08"}}}
]
}
